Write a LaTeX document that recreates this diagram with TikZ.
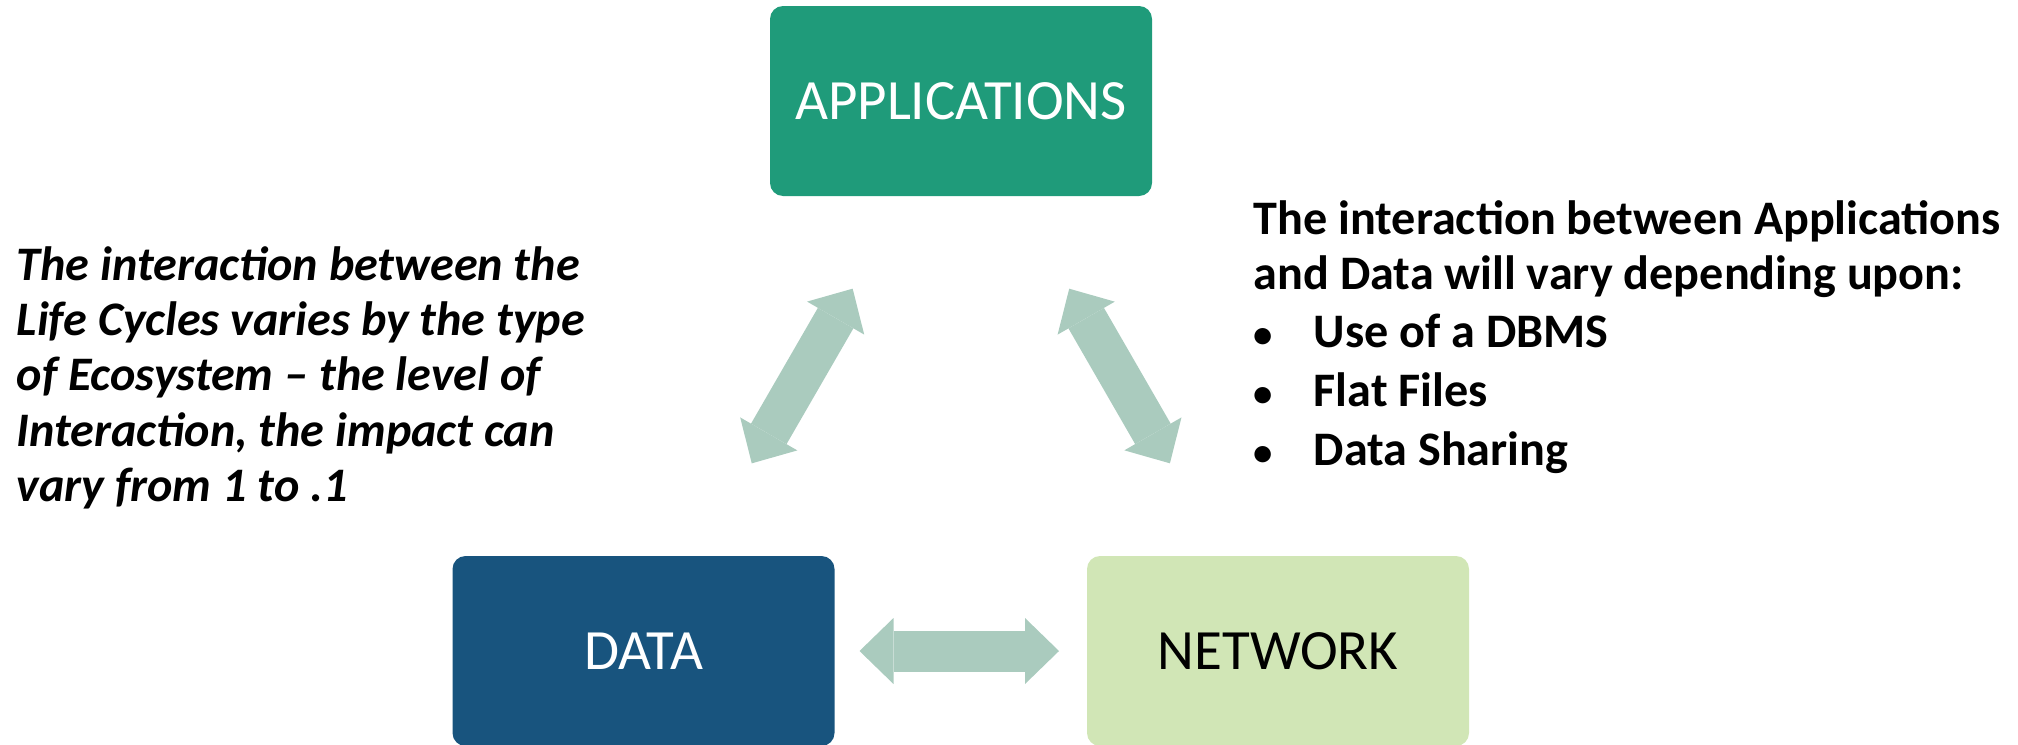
\documentclass[tikz,border=0pt]{standalone}
\usepackage{fontspec}
\setmainfont{Carlito}
\usetikzlibrary{arrows.meta, positioning}

\definecolor{appgreen}{RGB}{31,155,122}
\definecolor{datablue}{RGB}{24,84,126}
\definecolor{netgreen}{RGB}{209,230,182}
\definecolor{linkgreen}{RGB}{170,203,190}

\newcommand{\listdot}{\makebox[0.6cm][l]{\fontsize{11pt}{10pt}\selectfont •}}

\tikzset{
  box/.style={
    rectangle,
    rounded corners=0.13cm,
    minimum width=3.82cm,
    minimum height=1.9cm,
    align=center,
    inner sep=0pt,
    outer sep=0pt,
    text=white,
    font=\fontsize{16.2pt}{19pt}\selectfont
    },
  note/.style={
    inner sep=0pt,
    align=left,
    anchor=base west,
    font=\fontsize{13.7pt}{15.65pt}\selectfont\bfseries
    },
  link/.style={
    draw=linkgreen,
    line width=0.41cm,
    >={Triangle[length=0.34cm, width=0.66cm, line width=0pt]},
    <->
    }
}

\begin{document}
\begin{tikzpicture}[node distance=0.4cm]
\useasboundingbox (0,0) rectangle (20.18,7.44);
% the three life cycles
\node (apps) [box, fill=appgreen] at (9.61,6.43) {APPLICATIONS};
\node (data) [box, fill=datablue, below of=apps, xshift=-3.175cm, yshift=-5.1cm] {DATA};
\node (net) [box, fill=netgreen, text=black, right of=data, xshift=5.945cm] {NETWORK};
% side notes (anchored on their last line)
\node (ecotext) [note, font=\fontsize{13.7pt}{15.65pt}\selectfont\bfseries\itshape] at (0.16,2.43)
  {The interaction between the\\
   Life Cycles varies by the type\\
   of Ecosystem – the level of\\
   Interaction, the impact can\\
   vary from 1 to .1};
\node (usetext) [note] at (12.53,2.79)
  {The interaction between Applications\\
   and Data will vary depending upon:\\[1pt]
   \listdot Use of a DBMS\\[1pt]
   \listdot Flat Files\\[1pt]
   \listdot Data Sharing};
% two-way links
\draw[link, shorten <=1.07cm, shorten >=1.07cm] (apps) -- (data);
\draw[link, shorten <=1.07cm, shorten >=1.07cm] (apps) -- (net);
\draw[link, shorten <=0.25cm, shorten >=0.28cm] (data) -- (net);
\end{tikzpicture}
\end{document}
